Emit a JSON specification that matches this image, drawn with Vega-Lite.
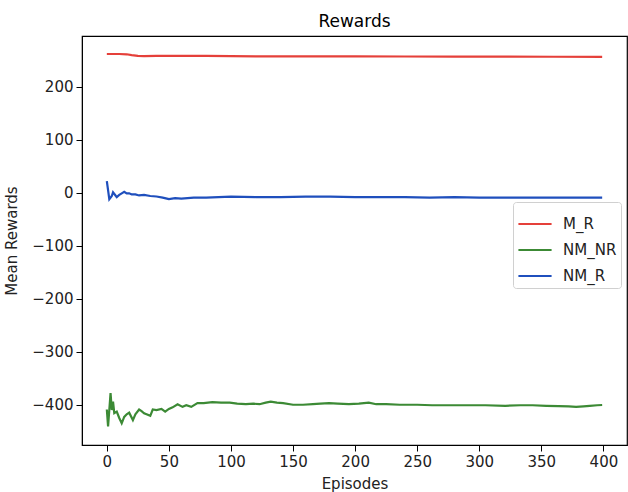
{
  "$schema": "https://vega.github.io/schema/vega-lite/v6.json",
  "width": 545,
  "height": 409,
  "autosize": {"type": "none"},
  "padding": {"left": 82, "top": 36, "right": 1, "bottom": 47},
  "background": "white",
  "title": {"text": "Rewards", "font": "DejaVu Sans", "fontSize": 17, "fontWeight": "normal", "color": "black", "anchor": "middle", "offset": 5},
  "config": {
    "view": {"stroke": "black", "strokeWidth": 1.2},
    "axis": {
      "grid": false,
      "domainColor": "black",
      "tickColor": "black",
      "tickSize": 6,
      "labelFont": "DejaVu Sans",
      "labelFontSize": 15,
      "labelColor": "#222",
      "labelPadding": 3,
      "titleFont": "DejaVu Sans",
      "titleFontSize": 15,
      "titleFontWeight": "normal",
      "titleColor": "#222"
    }
  },
  "data": {"values": [
    {"episode": 0, "series": "M_R", "value": 262},
    {"episode": 5, "series": "M_R", "value": 262},
    {"episode": 10, "series": "M_R", "value": 262},
    {"episode": 16, "series": "M_R", "value": 261.5},
    {"episode": 20, "series": "M_R", "value": 260},
    {"episode": 25, "series": "M_R", "value": 258.5},
    {"episode": 30, "series": "M_R", "value": 258},
    {"episode": 40, "series": "M_R", "value": 258.5},
    {"episode": 60, "series": "M_R", "value": 258.5},
    {"episode": 80, "series": "M_R", "value": 258.5},
    {"episode": 100, "series": "M_R", "value": 258},
    {"episode": 130, "series": "M_R", "value": 257.5},
    {"episode": 160, "series": "M_R", "value": 257.5},
    {"episode": 200, "series": "M_R", "value": 257.5},
    {"episode": 240, "series": "M_R", "value": 257.3},
    {"episode": 280, "series": "M_R", "value": 257},
    {"episode": 320, "series": "M_R", "value": 257},
    {"episode": 360, "series": "M_R", "value": 256.8},
    {"episode": 399, "series": "M_R", "value": 256.6},

    {"episode": 0, "series": "NM_NR", "value": -409},
    {"episode": 1, "series": "NM_NR", "value": -441},
    {"episode": 3, "series": "NM_NR", "value": -378},
    {"episode": 4, "series": "NM_NR", "value": -410},
    {"episode": 5, "series": "NM_NR", "value": -394},
    {"episode": 6, "series": "NM_NR", "value": -416},
    {"episode": 8, "series": "NM_NR", "value": -413},
    {"episode": 10, "series": "NM_NR", "value": -425},
    {"episode": 12, "series": "NM_NR", "value": -435},
    {"episode": 14, "series": "NM_NR", "value": -423},
    {"episode": 16, "series": "NM_NR", "value": -418},
    {"episode": 18, "series": "NM_NR", "value": -415},
    {"episode": 21, "series": "NM_NR", "value": -429},
    {"episode": 23, "series": "NM_NR", "value": -418},
    {"episode": 26, "series": "NM_NR", "value": -409},
    {"episode": 28, "series": "NM_NR", "value": -412},
    {"episode": 30, "series": "NM_NR", "value": -416},
    {"episode": 32, "series": "NM_NR", "value": -418},
    {"episode": 35, "series": "NM_NR", "value": -421},
    {"episode": 37, "series": "NM_NR", "value": -409},
    {"episode": 40, "series": "NM_NR", "value": -410},
    {"episode": 44, "series": "NM_NR", "value": -408},
    {"episode": 47, "series": "NM_NR", "value": -413},
    {"episode": 50, "series": "NM_NR", "value": -408},
    {"episode": 53, "series": "NM_NR", "value": -405},
    {"episode": 57, "series": "NM_NR", "value": -399},
    {"episode": 61, "series": "NM_NR", "value": -404},
    {"episode": 64, "series": "NM_NR", "value": -401},
    {"episode": 68, "series": "NM_NR", "value": -404},
    {"episode": 73, "series": "NM_NR", "value": -397},
    {"episode": 78, "series": "NM_NR", "value": -397},
    {"episode": 85, "series": "NM_NR", "value": -395},
    {"episode": 92, "series": "NM_NR", "value": -396},
    {"episode": 99, "series": "NM_NR", "value": -396},
    {"episode": 105, "series": "NM_NR", "value": -398},
    {"episode": 112, "series": "NM_NR", "value": -399},
    {"episode": 118, "series": "NM_NR", "value": -398},
    {"episode": 123, "series": "NM_NR", "value": -399},
    {"episode": 128, "series": "NM_NR", "value": -396},
    {"episode": 132, "series": "NM_NR", "value": -394},
    {"episode": 137, "series": "NM_NR", "value": -396},
    {"episode": 142, "series": "NM_NR", "value": -397},
    {"episode": 150, "series": "NM_NR", "value": -400},
    {"episode": 158, "series": "NM_NR", "value": -400},
    {"episode": 166, "series": "NM_NR", "value": -399},
    {"episode": 172, "series": "NM_NR", "value": -398},
    {"episode": 179, "series": "NM_NR", "value": -397},
    {"episode": 186, "series": "NM_NR", "value": -398},
    {"episode": 195, "series": "NM_NR", "value": -399},
    {"episode": 203, "series": "NM_NR", "value": -398},
    {"episode": 211, "series": "NM_NR", "value": -396},
    {"episode": 217, "series": "NM_NR", "value": -399},
    {"episode": 225, "series": "NM_NR", "value": -399},
    {"episode": 236, "series": "NM_NR", "value": -400},
    {"episode": 250, "series": "NM_NR", "value": -400},
    {"episode": 262, "series": "NM_NR", "value": -401},
    {"episode": 275, "series": "NM_NR", "value": -401},
    {"episode": 289, "series": "NM_NR", "value": -401},
    {"episode": 305, "series": "NM_NR", "value": -401},
    {"episode": 321, "series": "NM_NR", "value": -402},
    {"episode": 333, "series": "NM_NR", "value": -401},
    {"episode": 343, "series": "NM_NR", "value": -401},
    {"episode": 354, "series": "NM_NR", "value": -402},
    {"episode": 364, "series": "NM_NR", "value": -402.5},
    {"episode": 372, "series": "NM_NR", "value": -403},
    {"episode": 378, "series": "NM_NR", "value": -404},
    {"episode": 384, "series": "NM_NR", "value": -403},
    {"episode": 389, "series": "NM_NR", "value": -402},
    {"episode": 395, "series": "NM_NR", "value": -401},
    {"episode": 399, "series": "NM_NR", "value": -400.5},

    {"episode": 0, "series": "NM_R", "value": 22},
    {"episode": 2, "series": "NM_R", "value": -12},
    {"episode": 4, "series": "NM_R", "value": -6},
    {"episode": 5, "series": "NM_R", "value": 1},
    {"episode": 7, "series": "NM_R", "value": -5},
    {"episode": 8, "series": "NM_R", "value": -8},
    {"episode": 10, "series": "NM_R", "value": -4},
    {"episode": 12, "series": "NM_R", "value": -1},
    {"episode": 14, "series": "NM_R", "value": 2},
    {"episode": 16, "series": "NM_R", "value": -1},
    {"episode": 18, "series": "NM_R", "value": -1},
    {"episode": 20, "series": "NM_R", "value": -3},
    {"episode": 23, "series": "NM_R", "value": -3},
    {"episode": 26, "series": "NM_R", "value": -5},
    {"episode": 30, "series": "NM_R", "value": -4},
    {"episode": 35, "series": "NM_R", "value": -6},
    {"episode": 40, "series": "NM_R", "value": -7},
    {"episode": 45, "series": "NM_R", "value": -9},
    {"episode": 50, "series": "NM_R", "value": -12},
    {"episode": 55, "series": "NM_R", "value": -10},
    {"episode": 60, "series": "NM_R", "value": -11},
    {"episode": 70, "series": "NM_R", "value": -9},
    {"episode": 80, "series": "NM_R", "value": -9},
    {"episode": 90, "series": "NM_R", "value": -8},
    {"episode": 100, "series": "NM_R", "value": -7},
    {"episode": 120, "series": "NM_R", "value": -8},
    {"episode": 140, "series": "NM_R", "value": -8},
    {"episode": 160, "series": "NM_R", "value": -7},
    {"episode": 180, "series": "NM_R", "value": -7},
    {"episode": 200, "series": "NM_R", "value": -8},
    {"episode": 220, "series": "NM_R", "value": -8},
    {"episode": 240, "series": "NM_R", "value": -8},
    {"episode": 260, "series": "NM_R", "value": -9},
    {"episode": 280, "series": "NM_R", "value": -8},
    {"episode": 300, "series": "NM_R", "value": -9},
    {"episode": 320, "series": "NM_R", "value": -9},
    {"episode": 340, "series": "NM_R", "value": -9},
    {"episode": 360, "series": "NM_R", "value": -9},
    {"episode": 380, "series": "NM_R", "value": -9},
    {"episode": 399, "series": "NM_R", "value": -9}
  ]},
  "mark": {"type": "line", "strokeWidth": 2.2, "clip": true},
  "encoding": {
    "x": {"field": "episode", "type": "quantitative", "title": "Episodes",
          "scale": {"domain": [-20, 419], "nice": false, "zero": false},
          "axis": {"values": [0, 50, 100, 150, 200, 250, 300, 350, 400], "titlePadding": 7}},
    "y": {"field": "value", "type": "quantitative", "title": "Mean Rewards",
          "scale": {"domain": [-476, 296], "nice": false, "zero": false},
          "axis": {"values": [-400, -300, -200, -100, 0, 100, 200], "titlePadding": 12}},
    "color": {"field": "series", "type": "nominal",
              "scale": {"domain": ["M_R", "NM_NR", "NM_R"], "range": ["#e5403a", "#3c8a35", "#1f4fbd"]},
              "legend": {"title": null, "orient": "none", "legendX": 431, "legendY": 166,
                         "symbolType": "stroke", "symbolSize": 1100, "symbolStrokeWidth": 2.2,
                         "labelFont": "DejaVu Sans", "labelFontSize": 15, "labelColor": "#222",
                         "labelOffset": 10, "rowPadding": -11,
                         "strokeColor": "#d0d0d0", "fillColor": "white", "cornerRadius": 3, "padding": 4}}
  }
}
